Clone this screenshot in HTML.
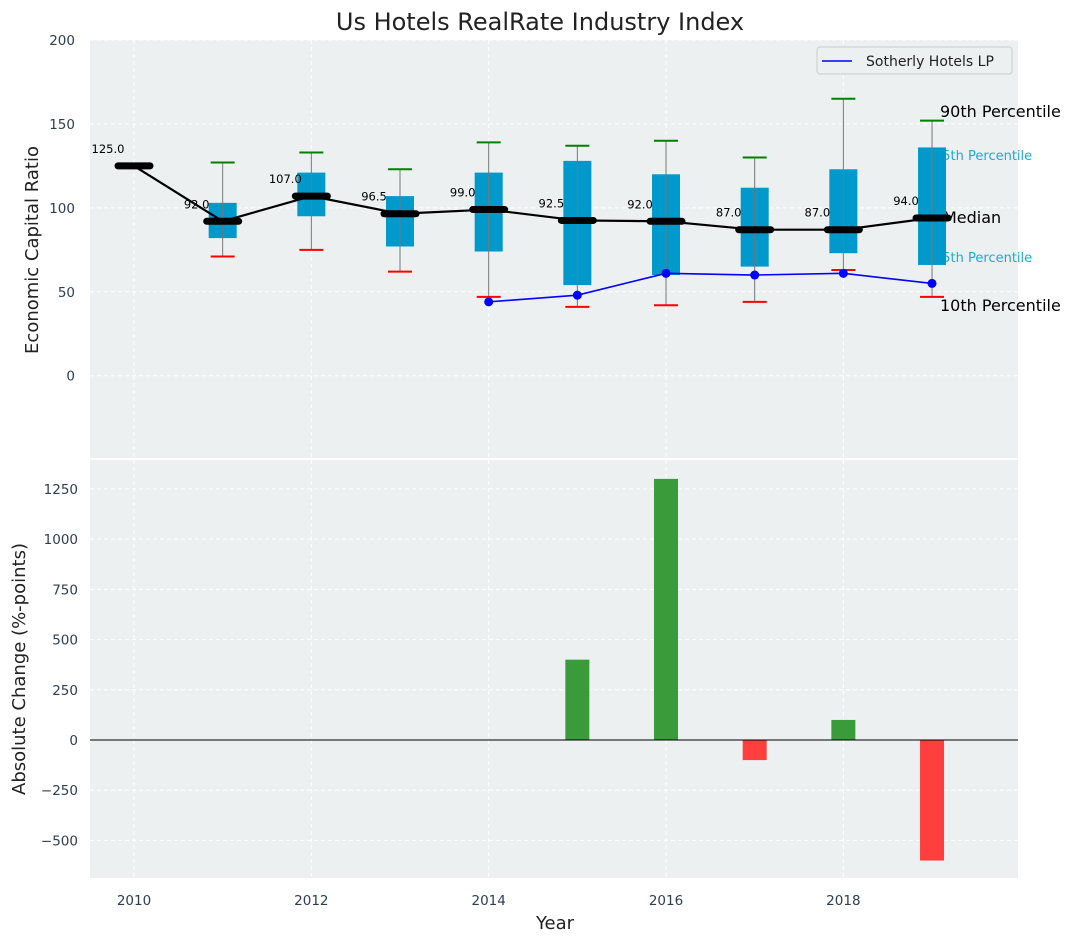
<!DOCTYPE html>
<html><head><meta charset="utf-8"><style>
body{margin:0;background:#fff}
svg text{font-family:"DejaVu Sans","Liberation Sans",sans-serif}
</style></head><body>
<svg id="c" width="1075" height="942" xmlns="http://www.w3.org/2000/svg"></svg>
<script>
const years=[2010,2011,2012,2013,2014,2015,2016,2017,2018,2019];
const medians=[125,92,107,96.5,99,92.5,92,87,87,94];
const q1=[null,82,95,77,74,54,60,65,73,66];
const q3=[null,103,121,107,121,128,120,112,123,136];
const lows=[null,71,75,62,47,41,42,44,63,47];
const highs=[null,127,133,123,139,137,140,130,165,152];
const compYears=[2014,2015,2016,2017,2018,2019];
const compValues=[44,48,61,60,61,55];
const changeYears=[2015,2016,2017,2018,2019];
const changeValues=[400,1300,-100,100,-600];
const topTicks=[0,50,100,150,200];
const botTicks=[-500,-250,0,250,500,750,1000,1250];
const xTicks=[2010,2012,2014,2016,2018];

const svg=document.getElementById('c');const NS='http://www.w3.org/2000/svg';
function mk(t,a,txt,p){const e=document.createElementNS(NS,t);for(const k in a)e.setAttribute(k,a[k]);if(txt!==undefined)e.textContent=txt;(p||svg).appendChild(e);return e;}
const X0=90,X1=1018,T0=40,T1=458,B0=460,B1=878;
const x=v=>134+(v-2010)*88.67;
const yT=v=>T0+(200-v)/(200-(-49))*(T1-T0);
const yB=v=>B0+(1394-v)/(1394-(-687))*(B1-B0);

let g=mk('rect',{x:X0,y:T0,width:X1-X0,height:T1-T0,fill:'#ecf0f1'});

g=mk('rect',{x:X0,y:B0,width:X1-X0,height:B1-B0,fill:'#ecf0f1'});

xTicks.forEach(v=>{mk('line',{x1:x(v),x2:x(v),y1:T0,y2:T1,stroke:'#fff','stroke-dasharray':'4,3'});mk('line',{x1:x(v),x2:x(v),y1:B0,y2:B1,stroke:'#fff','stroke-dasharray':'4,3'});});
topTicks.forEach(v=>{mk('line',{x1:X0,x2:X1,y1:yT(v),y2:yT(v),stroke:'#fff','stroke-dasharray':'4,3'});
 const t=mk('text',{x:75,y:yT(v)+5,'text-anchor':'end','font-size':13.5,fill:'#2c3e50'},String(v));
 });
botTicks.forEach(v=>{mk('line',{x1:X0,x2:X1,y1:yB(v),y2:yB(v),stroke:'#fff','stroke-dasharray':'4,3'});
 const t=mk('text',{x:78,y:yB(v)+5,'text-anchor':'end','font-size':13.5,fill:'#2c3e50'},String(v).replace('-','−'));
 });
xTicks.forEach(v=>{const t=mk('text',{x:x(v),y:905,'text-anchor':'middle','font-size':13.5,fill:'#2c3e50'},String(v));
 });
const ann=[['90th Percentile',940,117,16,'#000'],['75th Percentile',934,160,13,'#1fa8d8'],['Median',943,223,16,'#000'],['25th Percentile',934,262,13,'#1fa8d8'],['10th Percentile',940,311,16,'#000']];
ann.forEach(a=>{const t=mk('text',{x:a[1],y:a[2],'font-size':a[3],fill:a[4]},a[0]);
 });
years.forEach((yr,i)=>{if(q1[i]===null)return;
 const b=mk('rect',{x:x(yr)-14,y:yT(q3[i]),width:28,height:yT(q1[i])-yT(q3[i]),fill:'#0099cc'});
 
 mk('line',{x1:x(yr),x2:x(yr),y1:yT(highs[i]),y2:yT(lows[i]),stroke:'#777','stroke-width':1});
 const h=mk('line',{x1:x(yr)-12,x2:x(yr)+12,y1:yT(highs[i]),y2:yT(highs[i]),stroke:'green','stroke-width':2});
 
 const l=mk('line',{x1:x(yr)-12,x2:x(yr)+12,y1:yT(lows[i]),y2:yT(lows[i]),stroke:'red','stroke-width':2});
 
});
let pl=mk('polyline',{points:years.map((y,i)=>x(y)+','+yT(medians[i])).join(' '),fill:'none',stroke:'#000','stroke-width':2.2});

years.forEach((yr,i)=>{const m=mk('line',{x1:x(yr)-16,x2:x(yr)+16,y1:yT(medians[i]),y2:yT(medians[i]),stroke:'#000','stroke-width':7,'stroke-linecap':'round'});
 
 const t=mk('text',{x:x(yr)-26,y:yT(medians[i])-13,'text-anchor':'middle','font-size':11.5,fill:'#000'},medians[i].toFixed(1));
 });
pl=mk('polyline',{points:compYears.map((y,i)=>x(y)+','+yT(compValues[i])).join(' '),fill:'none',stroke:'blue','stroke-width':1.6});

compYears.forEach((yr,i)=>{const c=mk('circle',{cx:x(yr),cy:yT(compValues[i]),r:4.5,fill:'blue'});
 });
changeYears.forEach((yr,i)=>{const v=changeValues[i];
 const r=mk('rect',{x:x(yr)-12,y:Math.min(yB(v),yB(0)),width:24,height:Math.abs(yB(v)-yB(0)),fill:v>=0?'#3a9b3a':'#ff3e3e'});
 });
mk('line',{x1:X0,x2:X1,y1:yB(0),y2:yB(0),stroke:'#000','stroke-width':1});
g=mk('g',{});
mk('rect',{x:817,y:47,width:195,height:27,rx:3,fill:'#ecf0f1',stroke:'#ccc'},undefined,g);
mk('line',{x1:822,x2:852,y1:61,y2:61,stroke:'blue','stroke-width':1.6},undefined,g);
mk('text',{x:866,y:66,'font-size':14,fill:'#222'},'Sotherly Hotels LP',g);
let t=mk('text',{x:540,y:30,'text-anchor':'middle','font-size':24,fill:'#222'},'Us Hotels RealRate Industry Index');

t=mk('text',{x:0,y:0,'text-anchor':'middle','font-size':18,fill:'#222',transform:'translate(38,250) rotate(-90)'},'Economic Capital Ratio');

t=mk('text',{x:0,y:0,'text-anchor':'middle','font-size':18,fill:'#222',transform:'translate(25,669) rotate(-90)'},'Absolute Change (%-points)');

t=mk('text',{x:555,y:929,'text-anchor':'middle','font-size':18,fill:'#222'},'Year');

</script>
</body></html>
